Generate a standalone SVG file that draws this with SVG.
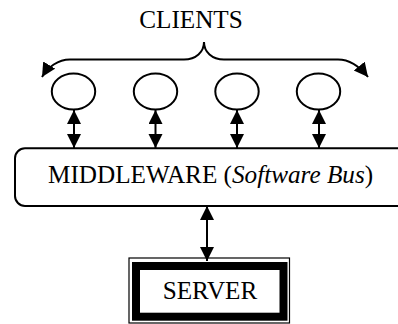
<svg xmlns="http://www.w3.org/2000/svg" width="398" height="324" viewBox="0 0 398 324">
<style>
.t{font-family:"Liberation Serif","Times New Roman",serif;font-size:25.2px;fill:#000}
.s{fill:none;stroke:#000;stroke-width:2}
.c{fill:#fff;stroke:#000;stroke-width:2}
</style>
<defs>
<marker id="ah" markerUnits="userSpaceOnUse" markerWidth="16" markerHeight="16" refX="14" refY="7" orient="auto-start-reverse">
<path d="M0,0 L14,7 L0,14 z" fill="#000"/>
</marker>
</defs>
<rect width="398" height="324" fill="#fff"/>
<g id="clients-label">
<text class="t" x="191" y="28" text-anchor="middle">CLIENTS</text>
</g>
<g id="brace">
<path class="s" d="M204,42 C204,52 196,59.5 184,59.5 L70,59.5 C58,59.5 48,67 42,77" marker-end="url(#ah)"/>
<path class="s" d="M204,42 C204,52 212,59.5 224,59.5 L338,59.5 C350,59.5 360,67 368,77" marker-end="url(#ah)"/>
</g>
<g id="client1"><ellipse class="c" cx="73.5" cy="91.5" rx="21.7" ry="18"/></g>
<g id="client2"><ellipse class="c" cx="155.5" cy="91.5" rx="21.7" ry="18"/></g>
<g id="client3"><ellipse class="c" cx="237" cy="91.5" rx="21.7" ry="18"/></g>
<g id="client4"><ellipse class="c" cx="318.5" cy="91.5" rx="21.7" ry="18"/></g>
<g id="middleware">
<rect class="c" x="15" y="148.3" width="400" height="57.7" rx="10" ry="10"/>
<text class="t" x="48" y="183">MIDDLEWARE (<tspan font-style="italic">Software Bus</tspan>)</text>
</g>
<g id="server">
<rect x="129" y="258" width="160.5" height="65" fill="#fff" stroke="#000" stroke-width="1.2"/>
<rect x="136" y="266" width="147.5" height="50.7" fill="#fff" stroke="#000" stroke-width="8"/>
<text class="t" x="210" y="299" text-anchor="middle">SERVER</text>
</g>
<g id="connectors">
<line class="s" x1="74" y1="110" x2="74" y2="148" marker-start="url(#ah)" marker-end="url(#ah)"/>
<line class="s" x1="155.5" y1="110" x2="155.5" y2="148" marker-start="url(#ah)" marker-end="url(#ah)"/>
<line class="s" x1="237" y1="110" x2="237" y2="148" marker-start="url(#ah)" marker-end="url(#ah)"/>
<line class="s" x1="319" y1="110" x2="319" y2="148" marker-start="url(#ah)" marker-end="url(#ah)"/>
<line class="s" x1="207" y1="206" x2="207" y2="261" marker-start="url(#ah)" marker-end="url(#ah)"/>
</g>
</svg>
